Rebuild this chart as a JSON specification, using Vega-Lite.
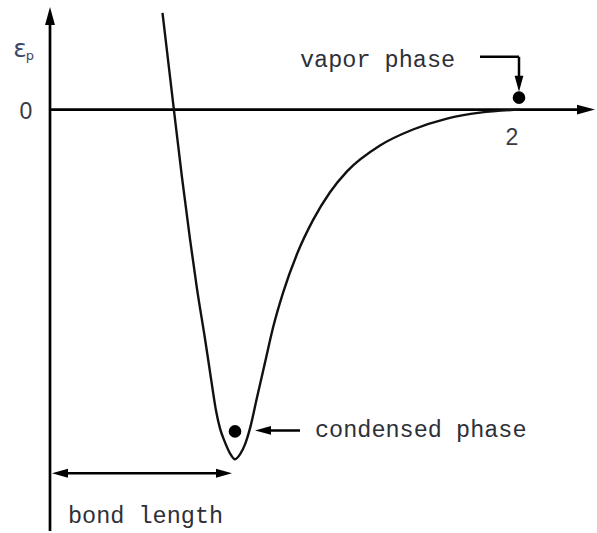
{
  "$schema": "https://vega.github.io/schema/vega-lite/v6.json",
  "width": 597,
  "height": 533,
  "autosize": {"type": "fit", "contains": "padding"},
  "padding": 0,
  "background": "white",
  "config": {"view": {"stroke": null}},
  "datasets": {
    "curve": [
      {"r": 0.487, "e": 0.2771},
      {"r": 0.5368, "e": -0.0029},
      {"r": 0.5714, "e": -0.1943},
      {"r": 0.6061, "e": -0.3714},
      {"r": 0.6364, "e": -0.5143},
      {"r": 0.671, "e": -0.6571},
      {"r": 0.697, "e": -0.7714},
      {"r": 0.7186, "e": -0.8629},
      {"r": 0.7359, "e": -0.9143},
      {"r": 0.7576, "e": -0.9543},
      {"r": 0.7792, "e": -0.9857},
      {"r": 0.8009, "e": -1.0029},
      {"r": 0.8225, "e": -0.9886},
      {"r": 0.8442, "e": -0.96},
      {"r": 0.8658, "e": -0.9143},
      {"r": 0.8961, "e": -0.8257},
      {"r": 0.9307, "e": -0.7257},
      {"r": 0.9654, "e": -0.6257},
      {"r": 1.0087, "e": -0.5257},
      {"r": 1.0693, "e": -0.4143},
      {"r": 1.1385, "e": -0.3171},
      {"r": 1.2121, "e": -0.2371},
      {"r": 1.2857, "e": -0.1771},
      {"r": 1.4286, "e": -0.1029},
      {"r": 1.5714, "e": -0.0571},
      {"r": 1.7186, "e": -0.0257},
      {"r": 1.8615, "e": -0.0086},
      {"r": 2.0346, "e": 0.0}
    ],
    "axes": [
      {"x": 0, "x2": 0, "y": -1.2086, "y2": 0.245},
      {"x": 0, "x2": 2.30, "y": 0, "y2": 0}
    ],
    "arrows": [
      {"x": 1.8615, "x2": 2.0303, "y": 0.1514, "y2": 0.1514},
      {"x": 2.0303, "x2": 2.0303, "y": 0.1514, "y2": 0.08},
      {"x": 0.93, "x2": 1.0823, "y": -0.92, "y2": -0.92},
      {"x": 0.04, "x2": 0.75, "y": -1.0429, "y2": -1.0429}
    ],
    "bigheads": [
      {"x": 0, "y": 0.2686, "dir": "up"},
      {"x": 2.3203, "y": 0, "dir": "right"}
    ],
    "heads": [
      {"x": 2.0303, "y": 0.0743, "dir": "down"},
      {"x": 0.9221, "y": -0.92, "dir": "left"},
      {"x": 0.0433, "y": -1.0429, "dir": "left"},
      {"x": 0.7532, "y": -1.0429, "dir": "right"}
    ],
    "dots": [
      {"x": 2.0303, "y": 0.0343},
      {"x": 0.8009, "y": -0.9229}
    ],
    "labels": [
      {"x": 1.0823, "y": 0.1429, "text": "vapor phase"},
      {"x": 1.1472, "y": -0.92, "text": "condensed phase"},
      {"x": 0.0779, "y": -1.1657, "text": "bond length"}
    ],
    "ticks": [
      {"x": -0.1039, "y": -0.0057, "text": "0"},
      {"x": 2.0, "y": -0.0829, "text": "2"}
    ]
  },
  "layer": [
    {
      "data": {"name": "axes"},
      "mark": {"type": "rule", "color": "#000000", "strokeWidth": 2.7},
      "encoding": {
        "x": {"field": "x", "type": "quantitative", "scale": {"domain": [-0.21645, 2.36797], "nice": false, "zero": false}, "axis": null},
        "x2": {"field": "x2"},
        "y": {"field": "y", "type": "quantitative", "scale": {"domain": [-1.20857, 0.31429], "nice": false, "zero": false}, "axis": null},
        "y2": {"field": "y2"}
      }
    },
    {
      "data": {"name": "curve"},
      "mark": {"type": "line", "color": "#111111", "strokeWidth": 2.4, "interpolate": "monotone"},
      "encoding": {
        "x": {"field": "r", "type": "quantitative"},
        "y": {"field": "e", "type": "quantitative"}
      }
    },
    {
      "data": {"name": "arrows"},
      "mark": {"type": "rule", "color": "#000000", "strokeWidth": 2.5},
      "encoding": {
        "x": {"field": "x", "type": "quantitative"},
        "x2": {"field": "x2"},
        "y": {"field": "y", "type": "quantitative"},
        "y2": {"field": "y2"}
      }
    },
    {
      "data": {"name": "bigheads"},
      "mark": {"type": "point", "filled": true, "color": "#000000", "opacity": 1, "size": 324, "strokeWidth": 0},
      "encoding": {
        "x": {"field": "x", "type": "quantitative"},
        "y": {"field": "y", "type": "quantitative"},
        "shape": {"field": "dir", "type": "nominal", "legend": null,
          "scale": {"domain": ["up", "right", "down", "left"], "range": ["M0,-1L0.55,1L-0.55,1Z", "M1,0L-1,-0.55L-1,0.55Z", "M0,1L0.55,-1L-0.55,-1Z", "M-1,0L1,-0.55L1,0.55Z"]}}
      }
    },
    {
      "data": {"name": "heads"},
      "mark": {"type": "point", "filled": true, "color": "#000000", "opacity": 1, "size": 256, "strokeWidth": 0},
      "encoding": {
        "x": {"field": "x", "type": "quantitative"},
        "y": {"field": "y", "type": "quantitative"},
        "shape": {"field": "dir", "type": "nominal", "legend": null}
      }
    },
    {
      "data": {"name": "dots"},
      "mark": {"type": "circle", "color": "#000000", "opacity": 1, "size": 160},
      "encoding": {
        "x": {"field": "x", "type": "quantitative"},
        "y": {"field": "y", "type": "quantitative"}
      }
    },
    {
      "data": {"name": "labels"},
      "mark": {"type": "text", "align": "left", "baseline": "middle", "font": "Liberation Mono", "fontSize": 23.5, "color": "#2e3038"},
      "encoding": {
        "x": {"field": "x", "type": "quantitative"},
        "y": {"field": "y", "type": "quantitative"},
        "text": {"field": "text"}
      }
    },
    {
      "data": {"name": "ticks"},
      "mark": {"type": "text", "align": "center", "baseline": "middle", "font": "Liberation Sans", "fontSize": 23, "color": "#3a3a44"},
      "encoding": {
        "x": {"field": "x", "type": "quantitative"},
        "y": {"field": "y", "type": "quantitative"},
        "text": {"field": "text"}
      }
    },
    {
      "data": {"values": [{"x": -0.1299, "y": 0.1743, "text": "ε"}]},
      "mark": {"type": "text", "align": "center", "baseline": "middle", "font": "DejaVu Sans", "fontSize": 25, "color": "#3a4766"},
      "encoding": {
        "x": {"field": "x", "type": "quantitative"},
        "y": {"field": "y", "type": "quantitative"},
        "text": {"field": "text"}
      }
    },
    {
      "data": {"values": [{"x": -0.0866, "y": 0.155, "text": "p"}]},
      "mark": {"type": "text", "align": "center", "baseline": "middle", "font": "DejaVu Sans", "fontSize": 13, "color": "#3a4766"},
      "encoding": {
        "x": {"field": "x", "type": "quantitative"},
        "y": {"field": "y", "type": "quantitative"},
        "text": {"field": "text"}
      }
    }
  ]
}
